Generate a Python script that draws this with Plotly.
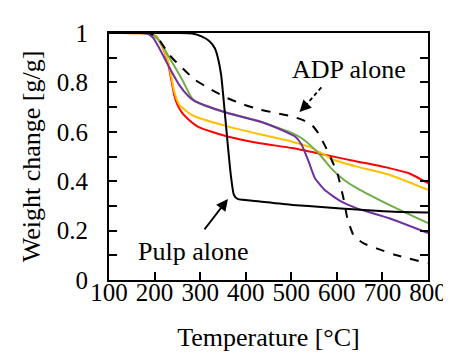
import plotly.graph_objects as go

# ---- data ----
pulp_T = [100, 250, 282, 303, 321, 332, 339, 346, 353, 360, 367, 374, 382, 431, 502, 573, 644, 715, 800]
pulp_W = [1.0, 1.0, 0.998, 0.986, 0.966, 0.939, 0.899, 0.831, 0.70, 0.56, 0.43, 0.345, 0.328, 0.318, 0.304, 0.295, 0.285, 0.277, 0.273]

adp_T = [100, 190, 211, 233, 261, 289, 325, 360, 396, 431, 467, 502, 523, 545, 559, 573, 587, 602, 616, 623, 637, 658, 687, 729, 800]
adp_W = [1.0, 1.0, 0.97, 0.91, 0.858, 0.81, 0.77, 0.736, 0.71, 0.69, 0.676, 0.662, 0.649, 0.628, 0.595, 0.547, 0.493, 0.426, 0.318, 0.25, 0.18, 0.149, 0.128, 0.101, 0.068]

red_T = [100, 183, 204, 218, 229, 236, 243, 250, 261, 275, 296, 325, 360, 431, 502, 573, 644, 715, 758, 800]
red_W = [1.0, 0.998, 0.986, 0.94, 0.885, 0.818, 0.75, 0.71, 0.676, 0.649, 0.62, 0.60, 0.581, 0.554, 0.534, 0.507, 0.48, 0.453, 0.432, 0.392]

yel_T = [100, 183, 204, 218, 229, 236, 243, 254, 275, 289, 360, 431, 502, 538, 573, 594, 644, 715, 800]
yel_W = [1.0, 0.998, 0.986, 0.94, 0.89, 0.83, 0.764, 0.71, 0.676, 0.662, 0.622, 0.59, 0.56, 0.54, 0.507, 0.486, 0.459, 0.426, 0.365]

grn_T = [100, 190, 211, 233, 261, 282, 304, 360, 431, 473, 502, 523, 545, 566, 587, 616, 644, 715, 800]
grn_W = [1.0, 1.0, 0.966, 0.899, 0.81, 0.736, 0.71, 0.676, 0.642, 0.615, 0.595, 0.574, 0.54, 0.50, 0.453, 0.405, 0.372, 0.304, 0.23]

pur_T = [100, 183, 197, 218, 233, 254, 275, 289, 360, 431, 488, 509, 523, 538, 552, 573, 609, 644, 715, 800]
pur_W = [1.0, 0.998, 0.98, 0.912, 0.858, 0.79, 0.743, 0.723, 0.676, 0.642, 0.60, 0.58, 0.547, 0.48, 0.412, 0.365, 0.318, 0.29, 0.25, 0.19]

x_ticks = [100, 200, 300, 400, 500, 600, 700, 800]
y_ticks = [0, 0.2, 0.4, 0.6, 0.8, 1]
y_tick_text = ["0", "0.2", "0.4", "0.6", "0.8", "1"]

FONT = "Liberation Serif"

fig = go.Figure()
series = [
    (red_T, red_W, "#ff0000", "solid"),
    (yel_T, yel_W, "#ffc000", "solid"),
    (grn_T, grn_W, "#70ad47", "solid"),
    (pur_T, pur_W, "#7030a0", "solid"),
    (adp_T, adp_W, "#000000", "dash"),
    (pulp_T, pulp_W, "#000000", "solid"),
]
for t, w, c, d in series:
    fig.add_trace(go.Scatter(x=t, y=w, mode="lines",
                             line=dict(color=c, width=2, dash=d, shape="spline", smoothing=0.5),
                             showlegend=False, hoverinfo="skip"))

# transparent copy on the overlay axes that carry tick labels and titles
fig.add_trace(go.Scatter(x=pulp_T, y=pulp_W, mode="lines", xaxis="x2", yaxis="y2",
                         line=dict(color="rgba(0,0,0,0)", width=0),
                         showlegend=False, hoverinfo="skip"))

# ADP alone label + dashed arrow
fig.add_annotation(x=626, y=0.854, text="ADP alone", showarrow=False,
                   font=dict(family=FONT, size=26, color="black"))
fig.add_shape(type="line", x0=566, y0=0.78, x1=527, y1=0.697,
              line=dict(color="black", width=1.8, dash="4px,3px"))
fig.add_annotation(x=518, y=0.68, ax=530, ay=0.703, xref="x", yref="y", axref="x", ayref="y",
                   text="", showarrow=True, arrowhead=2, arrowsize=1.3, arrowwidth=1.8, arrowcolor="black")

# Pulp alone label + arrow
fig.add_annotation(x=286, y=0.115, text="Pulp alone", showarrow=False,
                   font=dict(family=FONT, size=26, color="black"))
fig.add_annotation(x=361, y=0.328, ax=307, ay=0.199, xref="x", yref="y", axref="x", ayref="y",
                   text="", showarrow=True, arrowhead=2, arrowsize=1.3, arrowwidth=1.8, arrowcolor="black")

fig.update_layout(
    width=451, height=354,
    margin=dict(l=101, r=21, t=25, b=82),
    paper_bgcolor="white", plot_bgcolor="white",
    font=dict(family=FONT, size=25, color="black"),
    xaxis=dict(range=[100, 800], tickvals=x_ticks, ticks="inside", ticklen=8, tickwidth=1.5,
               tickcolor="black", showline=True, linecolor="black", linewidth=2, mirror=True,
               showgrid=False, zeroline=False, showticklabels=False),
    yaxis=dict(range=[0, 1], tickvals=y_ticks, ticks="inside", ticklen=8, tickwidth=1.5,
               tickcolor="black", showline=True, linecolor="black", linewidth=2, mirror="ticks",
               minor=dict(dtick=0.1, ticks="inside", ticklen=8, tickwidth=1.5, tickcolor="black", tick0=0),
               showgrid=False, zeroline=False, showticklabels=False),
    xaxis2=dict(overlaying="x", side="bottom", anchor="y", range=[100, 800], tickvals=x_ticks,
                ticks="", showline=False, showgrid=False, zeroline=False, ticklabelstandoff=-5,
                tickfont=dict(family=FONT, size=25),
                title=dict(text="Temperature [°C]", font=dict(family=FONT, size=26), standoff=22)),
    yaxis2=dict(overlaying="y", side="left", anchor="x", range=[0, 1], tickvals=y_ticks,
                ticktext=y_tick_text, ticks="", showline=False, showgrid=False, zeroline=False,
                ticklabelstandoff=20, tickfont=dict(family=FONT, size=25),
                title=dict(text="Weight change [g/g]", font=dict(family=FONT, size=26), standoff=8)),
)

fig.write_html("out.html")
